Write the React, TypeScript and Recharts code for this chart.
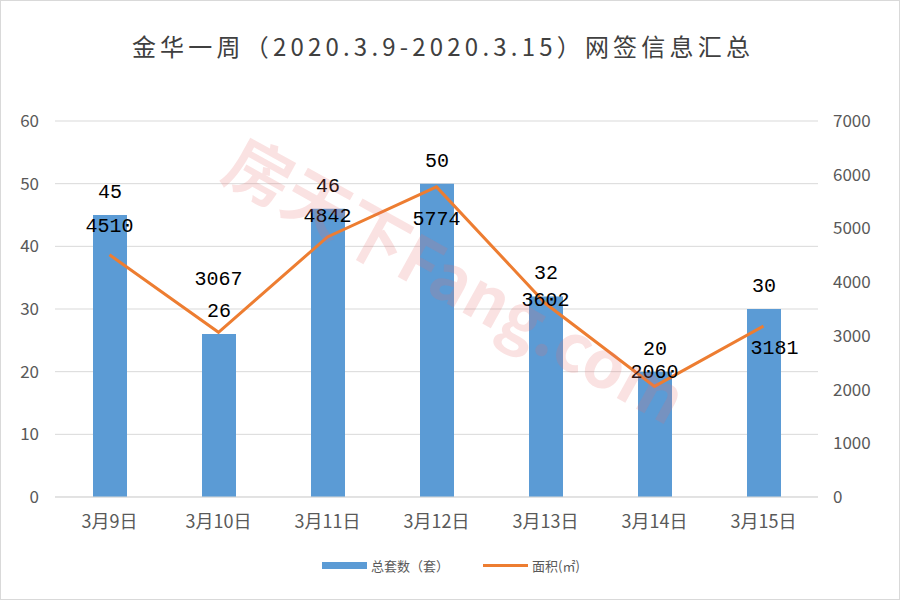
import React from "react";
import { ComposedChart, Bar, Line, XAxis, YAxis, CartesianGrid, LabelList } from "recharts";

const days = ["3月9日", "3月10日", "3月11日", "3月12日", "3月13日", "3月14日", "3月15日"];
const units = [45, 26, 46, 50, 32, 20, 30];
const areas = [4510, 3067, 4842, 5774, 3602, 2060, 3181];
const leftTicks = [0, 10, 20, 30, 40, 50, 60];
const rightTicks = [0, 1000, 2000, 3000, 4000, 5000, 6000, 7000];

// manual label nudges, like the hand-moved labels in the original
const areaLabelDy = [-30, -54, -22, 31, -5, -15, 21];
const areaLabelDx = [0, 0, 0, 0, 0, 0, 11];

const data = days.map((d, i) => ({ day: d, units: units[i], area: areas[i] }));

const BLUE = "#5B9BD5";
const ORANGE = "#ED7D31";
const GREY = "#595959";
const labelFont = "'Liberation Mono', 'DejaVu Sans Mono', monospace";

const AreaLabel = (props: any) => {
  const { x, y, value, index } = props;
  return (
    <text
      x={x + areaLabelDx[index]}
      y={y + areaLabelDy[index]}
      dy="0.35em"
      textAnchor="middle"
      fill="#000"
      fontSize={20}
      fontFamily={labelFont}
    >
      {value}
    </text>
  );
};

export default function App() {
  return (
    <div
      style={{
        position: "absolute",
        left: 0,
        top: 0,
        width: 900,
        height: 600,
        border: "1px solid #D9D9D9",
        boxSizing: "border-box",
        background: "#fff",
        fontFamily: "'Noto Sans CJK SC', sans-serif",
      }}
    >
      <div
        style={{
          position: "absolute",
          top: 28,
          left: -8,
          width: 900,
          textAlign: "center",
          fontSize: 24,
          lineHeight: "34px",
          letterSpacing: 4.2,
          color: "#404040",
        }}
      >
        金华一周（2020.3.9-2020.3.15）网签信息汇总
      </div>
      <div style={{ position: "absolute", left: -1, top: -1 }}>
        <ComposedChart width={900} height={600} data={data} margin={{ top: 121, right: 0, left: 0, bottom: 73 }}>
          <CartesianGrid yAxisId="left" vertical={false} stroke="#D9D9D9" />
          <XAxis
            dataKey="day"
            height={30}
            stroke="#D9D9D9"
            tickLine={false}
            tickMargin={12}
            tick={{ fill: GREY, fontSize: 18 }}
          />
          <YAxis
            yAxisId="left"
            width={55}
            domain={[0, 60]}
            ticks={leftTicks}
            axisLine={false}
            tickLine={false}
            tickMargin={10}
            tick={{ fill: GREY, fontSize: 17 }}
          />
          <YAxis
            yAxisId="right"
            orientation="right"
            width={82}
            domain={[0, 7000]}
            ticks={rightTicks}
            axisLine={false}
            tickLine={false}
            tickMargin={9}
            tick={{ fill: GREY, fontSize: 17, textAnchor: "start" }}
          />
          <Bar yAxisId="left" dataKey="units" fill={BLUE} barSize={34} isAnimationActive={false}>
            <LabelList
              dataKey="units"
              position="top"
              offset={17}
              fill="#000"
              fontSize={20}
              fontFamily={labelFont}
            />
          </Bar>
          <Line
            yAxisId="right"
            dataKey="area"
            type="linear"
            stroke={ORANGE}
            strokeWidth={3}
            dot={false}
            isAnimationActive={false}
          >
            <LabelList dataKey="area" content={AreaLabel} />
          </Line>
        </ComposedChart>
      </div>
      <svg
        width={900}
        height={600}
        style={{ position: "absolute", left: -1, top: -1, pointerEvents: "none" }}
      >
        <text
          x={228}
          y={162}
          transform="rotate(29 228 162)"
          fontSize={66}
          fontWeight="bold"
          fill="rgba(230,110,110,0.2)"
          fontFamily="'Noto Sans CJK SC', sans-serif"
          dominantBaseline="middle"
        >
          房天下Fang.com
        </text>
      </svg>
      <div
        style={{
          position: "absolute",
          top: 555,
          left: 0,
          width: 900,
          display: "flex",
          justifyContent: "center",
          alignItems: "center",
          fontSize: 13,
          color: GREY,
        }}
      >
        <span style={{ display: "inline-block", width: 45, height: 7, background: BLUE, marginRight: 4 }} />
        <span style={{ marginRight: 34 }}>总套数（套）</span>
        <span style={{ display: "inline-block", width: 45, height: 3, background: ORANGE, marginRight: 4 }} />
        <span>面积(㎡)</span>
      </div>
    </div>
  );
}
